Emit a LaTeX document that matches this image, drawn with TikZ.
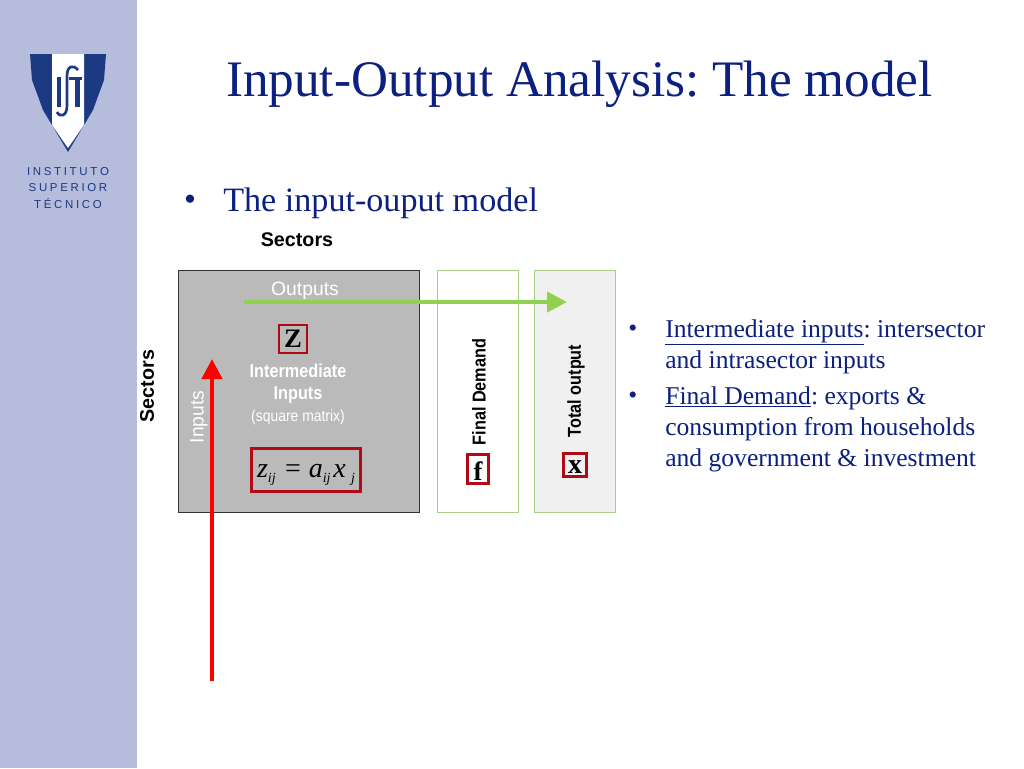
\documentclass[tikz,border=0pt]{standalone}
\usepackage{fontspec}
\setmainfont{Liberation Serif}
\setsansfont{Liberation Sans}
\newfontfamily\narrowsans[FakeStretch=0.87]{Liberation Sans}
\usetikzlibrary{arrows.meta}
\definecolor{sidebar}{RGB}{182,188,219}
\definecolor{deepblue}{RGB}{12,32,128}
\definecolor{shieldblue}{RGB}{27,58,130}
\definecolor{boxgray}{RGB}{186,186,186}
\definecolor{boxgreen}{RGB}{168,208,130}
\definecolor{arrowgreen}{RGB}{146,208,80}
\definecolor{boxred}{RGB}{178,10,20}
\definecolor{softgray}{RGB}{240,240,240}
\newcommand{\lowsub}[1]{\raisebox{-4pt}{\fontsize{10.5}{10.5}\selectfont\itshape #1}}
\tikzset{
  sectorlabel/.style={font=\sffamily\bfseries\fontsize{14.8}{17}\selectfont, inner sep=0pt},
  narrowlabel/.style={font=\narrowsans\bfseries\fontsize{14}{17}\selectfont, inner sep=0pt},
  whitelabel/.style={font=\sffamily\fontsize{14.5}{17}\selectfont, text=white, inner sep=0pt},
  redbox/.style={draw=boxred, line width=2pt, inner sep=0pt, text=black},
  bodytext/.style={font=\fontsize{19.2}{23.25}\selectfont, text=deepblue, inner sep=0pt, align=left, anchor=north west},
  logotext/.style={font=\sffamily\fontsize{8.6}{11}\selectfont, text=shieldblue, inner sep=0pt},
  bigarrow/.style={line width=3.2pt, -{Triangle[length=15pt,width=15pt]}},
}
\begin{document}
\begin{tikzpicture}[x=0.75pt, y=-0.75pt]
  \frenchspacing
  \useasboundingbox (0,0) rectangle (1024,768);
  % slide background
  \fill[white] (0,0) rectangle (1024,768);
  \fill[sidebar] (0,0) rectangle (137,768);
  % logo
  \fill[shieldblue] (30,54) -- (106,54) -- (104,80) -- (93,110) -- (68,152) -- (43,110) -- (32,80) -- cycle;
  \fill[white] (52,54) -- (84,54) -- (84,125) -- (68,148) -- (52,125) -- cycle;
  \fill[shieldblue] (57,77) rectangle (61,107);
  \fill[shieldblue] (69,77) rectangle (82,79.5);
  \fill[shieldblue] (75,77) rectangle (79.5,107);
  \draw[shieldblue, line width=2pt] (78,70) .. controls (73,64) and (67,66) .. (67,76) -- (67,106) .. controls (67,116) and (60,118) .. (57,112);
  \node[logotext] (logoa) at (68,172) {I\kern2pt N\kern2pt S\kern2pt T\kern2pt I\kern2pt T\kern2pt U\kern2pt T\kern2pt O};
  \node[logotext] (logob) at (68,188) {S\kern2pt U\kern2pt P\kern2pt E\kern2pt R\kern2pt I\kern2pt O\kern2pt R};
  \node[logotext] (logoc) at (68,204) {T\kern2pt É\kern2pt C\kern2pt N\kern2pt I\kern2pt C\kern2pt O};
  % title
  \node[font=\fontsize{38.4}{44}\selectfont, text=deepblue, inner sep=0pt] (title) at (579.5,84) {Input-Output Analysis: The model};
  \node[font=\fontsize{25.6}{30}\selectfont, text=deepblue, inner sep=0pt] (bullet) at (190,203) {•};
  \node[font=\fontsize{25.6}{30}\selectfont, text=deepblue, inner sep=0pt, anchor=west] (heading) at (223,203) {The input-ouput model};
  % matrix boxes
  \draw[fill=boxgray, draw=black!80, line width=0.6pt] (178,270.5) rectangle (419.5,512.5);
  \draw[boxgreen, line width=0.8pt] (437.5,270.5) rectangle (518.5,512.5);
  \draw[boxgreen, fill=softgray, line width=0.8pt] (534.5,270.5) rectangle (615.5,512.5);
  \node[sectorlabel] (sectorstop) at (297,240) {Sectors};
  \node[sectorlabel, rotate=90] (sectorsleft) at (147,386) {Sectors};
  \node[whitelabel] (outputs) at (305,291) {Outputs};
  \node[whitelabel, rotate=90] (inputs) at (199,417) {Inputs};
  % matrix contents
  \node[redbox, minimum width=21pt, minimum height=21pt, font=\bfseries\fontsize{20}{20}\selectfont] (zbox) at (293,339) {Z};
  \node[narrowlabel, text=white] (interm) at (298,371) {Intermediate};
  \node[narrowlabel, text=white] (interinp) at (298,395) {Inputs};
  \node[whitelabel, font=\narrowsans\fontsize{12}{14}\selectfont] (square) at (298,417) {(square matrix)};
  \node[redbox, minimum width=82pt, minimum height=32pt, text height=15pt, text depth=4.5pt, font=\fontsize{21}{21}\selectfont] (formula) at (306,470) {\textit{z}\lowsub{ij}\kern7pt=\kern6pt\textit{a}\lowsub{ij}\kern2pt\textit{x}\kern4pt\lowsub{j}};
  \node[narrowlabel, rotate=90] (finaldemand) at (479,392) {Final Demand};
  \node[narrowlabel, rotate=90] (totaloutput) at (576,391) {Total output};
  \node[redbox, minimum width=16pt, minimum height=22pt, text height=16.5pt, text depth=0pt, font=\bfseries\fontsize{20}{20}\selectfont] (fbox) at (478,469) {f};
  \node[redbox, minimum width=17pt, minimum height=17.5pt, text height=12pt, text depth=0pt, font=\bfseries\fontsize{21}{21}\selectfont] (xbox) at (575,465) {x};
  % arrows
  \coordinate (greenstart) at (244,302);
  \coordinate (greenend) at (567,302);
  \coordinate (redstart) at (212,681);
  \coordinate (redend) at (212,359);
  \draw[bigarrow, arrowgreen] (greenstart) -- (greenend);
  \draw[bigarrow, red] (redstart) -- (redend);
  % side notes
  \node[bodytext] (dota) at (628,325) {•};
  \node[bodytext] (notea) at (665,319) {\underline{Intermediate inputs}: intersector\\and intrasector inputs};
  \node[bodytext] (dotb) at (628,392) {•};
  \node[bodytext] (noteb) at (665,386) {\underline{Final Demand}: exports \&\\consumption from households\\and government \& investment};
\end{tikzpicture}
\end{document}
